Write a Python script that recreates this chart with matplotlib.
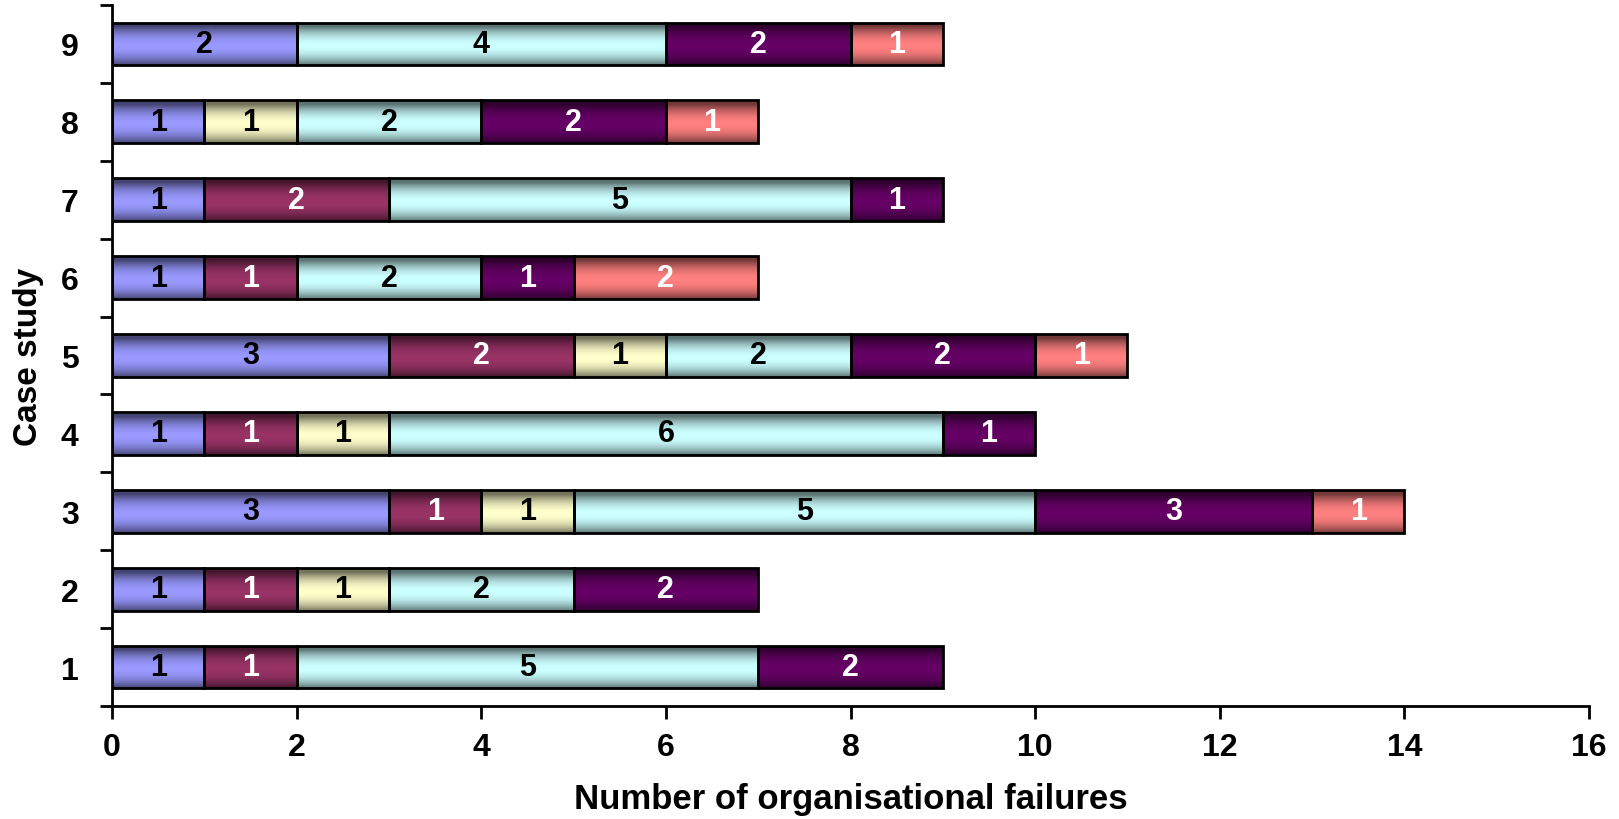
import numpy as np
import matplotlib.pyplot as plt
from matplotlib.ticker import FixedLocator

plt.rcParams['font.family'] = ['Liberation Sans', 'DejaVu Sans']
plt.rcParams['font.weight'] = 'bold'

cases = ['1', '2', '3', '4', '5', '6', '7', '8', '9']
# one list per failure category (segment order left to right)
cat_a = [1, 1, 3, 1, 3, 1, 1, 1, 2]
cat_b = [1, 1, 1, 1, 2, 1, 2, 0, 0]
cat_c = [0, 1, 1, 1, 1, 0, 0, 1, 0]
cat_d = [5, 2, 5, 6, 2, 2, 5, 2, 4]
cat_e = [2, 2, 3, 1, 2, 1, 1, 2, 2]
cat_f = [0, 0, 1, 0, 1, 2, 0, 1, 1]

series = [cat_a, cat_b, cat_c, cat_d, cat_e, cat_f]
colors = ['#9999FF', '#993366', '#FFFFCC', '#CCFFFF', '#660066', '#FF8080']
text_colors = ['black', 'white', 'black', 'black', 'white', 'white']

fig = plt.figure(figsize=(16.19, 8.2), dpi=100)
ax = fig.add_axes([0.0692, 0.1378, 0.9815 - 0.0692, 0.9927 - 0.1378])

# vertical shading like the excel bar effect: darker at top/bottom edges
t = np.linspace(0, 1, 64)
shade = np.zeros((64, 1, 4))
shade[:, 0, 3] = 0.55 * np.clip(np.abs(t - 0.55) * 2.2, 0, 1) ** 2.0

y = np.arange(1, len(cases) + 1)
left = np.zeros(len(cases))
for vals, col, tcol in zip(series, colors, text_colors):
    vals = np.array(vals, dtype=float)
    mask = vals > 0
    bars = ax.barh(y[mask], vals[mask], left=left[mask], height=0.55, color=col,
                   linewidth=0, zorder=2)
    for rect in bars:
        x0, y0 = rect.get_x(), rect.get_y()
        im = ax.imshow(shade, extent=[x0, x0 + rect.get_width(), y0, y0 + rect.get_height()],
                       aspect='auto', zorder=2.5, interpolation='bilinear')
        im.set_clip_path(rect)
    ax.barh(y[mask], vals[mask], left=left[mask], height=0.55, facecolor='none',
            edgecolor='black', linewidth=2, zorder=3)
    for yy, v, l in zip(y[mask], vals[mask], left[mask]):
        ax.text(l + v / 2, yy, f'{int(v)}', ha='center', va='center',
                color=tcol, fontsize=22, fontweight='bold', zorder=4)
    left += vals

ax.set_xlim(0, 16)
ax.set_ylim(0.5, 9.5)
ax.set_xticks(np.arange(0, 17, 2))
ax.set_yticks(y)
ax.set_yticklabels(cases)
ax.yaxis.set_minor_locator(FixedLocator(np.arange(0.5, 10, 1)))
ax.tick_params(axis='y', which='major', length=0, labelsize=23, pad=24)
ax.tick_params(axis='y', which='minor', length=9, width=2, direction='out')
ax.tick_params(axis='x', which='major', length=9, width=2, direction='out',
               labelsize=23, pad=10)

for s in ['top', 'right']:
    ax.spines[s].set_visible(False)
for s in ['left', 'bottom']:
    ax.spines[s].set_linewidth(2)

ax.set_xlabel('Number of organisational failures', fontsize=25, fontweight='bold', labelpad=14)
ax.set_ylabel('Case study', fontsize=24, fontweight='bold', labelpad=12)

fig.savefig('out.png', dpi=100)
